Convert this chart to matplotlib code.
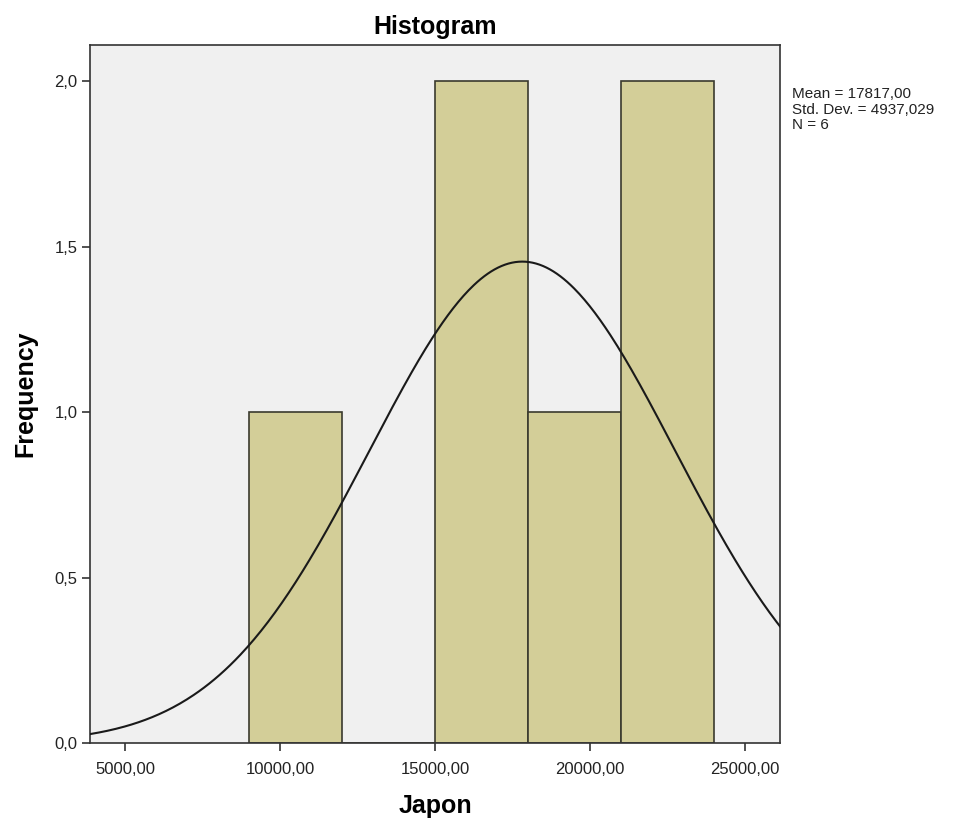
import matplotlib.pyplot as plt
import numpy as np

# Histogram data
bin_left = [9000, 12000, 15000, 18000, 21000]
bin_width = 3000
counts = [1, 0, 2, 1, 2]
mean = 17817.00
std = 4937.029
n = 6

xticks = [5000, 10000, 15000, 20000, 25000]
yticks = [0.0, 0.5, 1.0, 1.5, 2.0]

plt.rcParams['font.family'] = ['Liberation Sans', 'DejaVu Sans']

fig = plt.figure(figsize=(9.67, 8.24), dpi=100)
ax = fig.add_axes([0.093, 0.0983, 0.7136, 0.8471])
ax.set_facecolor('#f0f0f0')

ax.bar(bin_left, counts, width=bin_width, align='edge',
       color='#d3ce98', edgecolor='#3a3a2e', linewidth=1.2, zorder=2)

# normal curve scaled to counts
xs = np.linspace(3870, 26130, 400)
ys = n * bin_width / (std * np.sqrt(2 * np.pi)) * np.exp(-0.5 * ((xs - mean) / std) ** 2)
ax.plot(xs, ys, color='#1a1a1a', linewidth=1.5, zorder=3)

ax.set_xlim(3870, 26130)
ax.set_ylim(0, 2.109)
ax.set_xticks(xticks)
ax.set_xticklabels([f"{v},00" for v in xticks])
ax.set_yticks(yticks)
ax.set_yticklabels([f"{v:.1f}".replace('.', ',') for v in yticks])
ax.tick_params(labelsize=12, length=6, width=1.2, color='#333333', labelcolor='#222222')
ax.tick_params(axis='x', pad=8)
ax.tick_params(axis='y', pad=3)

for s in ax.spines.values():
    s.set_color('#333333')
    s.set_linewidth(1.2)

ax.set_title('Histogram', fontsize=18, fontweight='bold', pad=8)
ax.set_xlabel('Japon', fontsize=18, fontweight='bold', labelpad=12)
ax.set_ylabel('Frequency', fontsize=18, fontweight='bold', labelpad=12)

stats = (f"Mean = {mean:.2f}".replace('.', ',') + "\n"
         + "Std. Dev. = " + f"{std:.3f}".replace('.', ',') + "\n"
         + f"N = {n}")
fig.text(0.819, 0.894, stats, fontsize=11, va='top', ha='left',
         linespacing=1.12, color='#222222')

fig.savefig('out.png', dpi=100)
